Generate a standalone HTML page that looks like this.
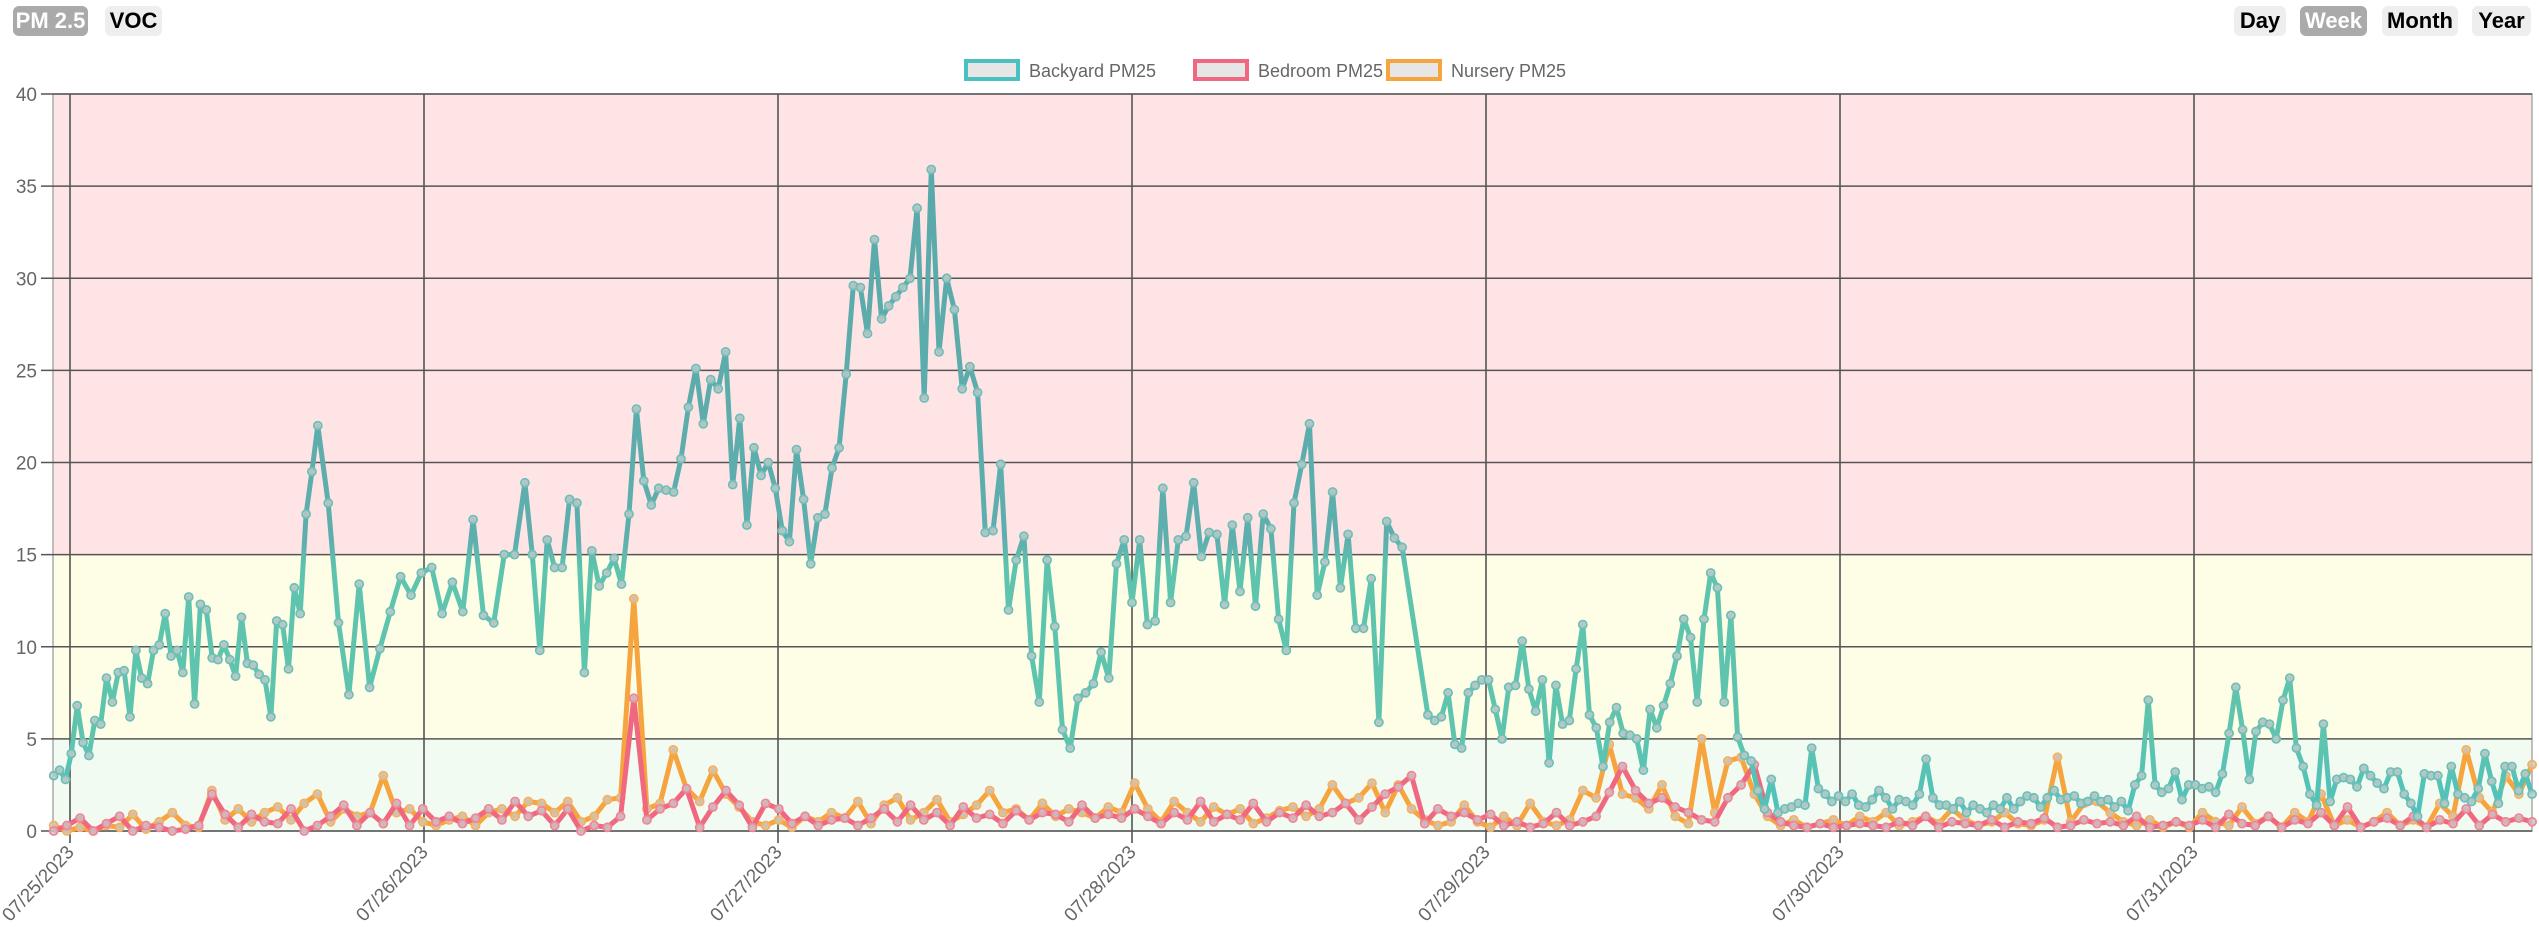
<!DOCTYPE html>
<html><head><meta charset="utf-8">
<style>
html,body{margin:0;padding:0;background:#fff;width:2539px;height:927px;overflow:hidden;font-family:"Liberation Sans",Arial,sans-serif}
.btn{position:absolute;top:6px;height:30px;line-height:30px;border-radius:6px;font-weight:bold;font-size:22px;text-align:center;background:#eee;color:#000}
.btn.on{background:#aaa;color:#fff}
svg{position:absolute;left:0;top:0}
</style></head><body>
<div class="btn on" style="left:13px;width:75px">PM 2.5</div>
<div class="btn" style="left:105px;width:57px">VOC</div>
<div class="btn" style="left:2234px;width:52px">Day</div>
<div class="btn on" style="left:2300px;width:67px">Week</div>
<div class="btn" style="left:2382px;width:76px">Month</div>
<div class="btn" style="left:2472px;width:59px">Year</div>
<svg id="chart" width="2539" height="927" xmlns="http://www.w3.org/2000/svg"></svg>
<script>
const dateLabels=["07/25/2023","07/26/2023","07/27/2023","07/28/2023","07/29/2023","07/30/2023","07/31/2023"];
const yTicks=[0,5,10,15,20,25,30,35,40];
const seriesNames=["Backyard PM25","Bedroom PM25","Nursery PM25"];
const backyardSeg1=[3.0,3.3,2.8,4.2,6.8,4.8,4.1,6.0,5.8,8.3,7.0,8.6,8.7,6.2,9.8,8.3,8.0,9.8,10.1,11.8,9.5,9.8,8.6,12.7,6.9,12.3,12.0,9.4,9.3,10.1,9.3,8.4,11.6,9.1,9.0,8.5,8.2,6.2,11.4,11.2,8.8,13.2,11.8,17.2,19.5,22.0,17.8,11.3,7.4,13.4,7.8,9.9,11.9,13.8,12.8,14.0,14.3,11.8,13.5,11.9,16.9,11.7,11.3,15.0,15.0,18.9,15.0,9.8,15.8,14.3,14.3,18.0,17.8,8.6,15.2,13.3,14.0,14.8,13.4,17.2,22.9,19.0,17.7,18.6,18.5,18.4,20.2,23.0,25.1,22.1,24.5,24.0,26.0,18.8,22.4,16.6,20.8,19.3,20.0,18.6,16.3,15.7,20.7,18.0,14.5,17.0,17.2,19.7,20.8,24.8,29.6,29.5,27.0,32.1,27.8,28.5,29.0,29.5,30.0,33.8,23.5,35.9,26.0,30.0,28.3,24.0,25.2,23.8,16.2,16.3,19.9,12.0,14.7,16.0,9.5,7.0,14.7,11.1,5.5,4.5,7.2,7.5,8.0,9.7,8.3,14.5,15.8,12.4,15.8,11.2,11.4,18.6,12.4,15.8,16.0,18.9,14.9,16.2,16.1,12.3,16.6,13.0,17.0,12.2,17.2,16.4,11.5,9.8,17.8,19.9,22.1,12.8,14.6,18.4,13.2,16.1,11.0,11.0,13.7,5.9,16.8,15.9,15.4];
const seg1AnchorIdx=[0,45,65,80,92,121,182];
const seg1AnchorDay=[-0.046,0.700,1.285,1.600,1.852,2.433,3.763];
const backyardSeg2=[6.3,6.0,6.2,7.5,4.7,4.5,7.5,7.9,8.2,8.2,6.6,5.0,7.8,7.9,10.3,7.7,6.5,8.2,3.7,7.9,5.8,6.0,8.8,11.2,6.3,5.6,3.5,5.9,6.7,5.3,5.2,5.0,3.3,6.6,5.6,6.8,8.0,9.5,11.5,10.5,7.0,11.5,14.0,13.2,7.0,11.7,5.1,4.1,3.8,2.2,1.2,2.8,1.0,1.2,1.3,1.5,1.4,4.5,2.3,2.0,1.6,1.9,1.6,2.0,1.4,1.3,1.7,2.2,1.8,1.2,1.7,1.6,1.4,2.0,3.9,1.8,1.4,1.4,1.2,1.6,1.0,1.4,1.2,1.0,1.4,1.2,1.8,1.2,1.6,1.9,1.8,1.3,1.8,2.2,1.7,1.8,1.9,1.5,1.6,1.9,1.6,1.7,1.3,1.6,1.1,2.5,3.0,7.1,2.5,2.1,2.3,3.2,1.7,2.5,2.5,2.3,2.4,2.1,3.1,5.3,7.8,5.5,2.8,5.4,5.9,5.8,5.0,7.1,8.3,4.5,3.5,2.0,1.4,5.8,1.6,2.8,2.9,2.8,2.4,3.4,3.0,2.6,2.3,3.2,3.2,2.0,1.5,0.8,3.1,3.0,3.0,1.5,3.5,2.0,1.8,1.6,2.3,4.2,2.7,1.5,3.5,3.5,2.2,3.1,2.0];
const seg2StartDay=3.836, seg2EndDay=6.955;
const bedroom=[0,0.3,0.7,0,0.4,0.8,0,0.3,0.2,0,0.1,0.3,2.0,0.9,0.2,0.9,0.5,0.4,1.2,0,0.3,0.8,1.4,0.3,1.0,0.4,1.5,
0.3,1.2,0.5,0.8,0.4,0.7,1.2,0.6,1.6,0.8,1.1,0.3,1.2,0,0.3,0.2,0.8,7.2,0.6,1.2,1.5,2.3,0.2,1.3,2.2,1.4,0.2,
1.5,1.2,0.4,0.8,0.3,0.6,0.7,0.3,0.7,1.2,0.5,1.4,0.6,1.0,0.3,1.3,0.7,0.9,0.4,1.1,0.6,1.0,0.9,0.5,1.4,0.7,0.9,
0.7,1.2,0.8,0.4,1.0,0.6,1.6,0.5,0.9,0.6,1.5,0.5,1.0,0.7,1.4,0.8,1.0,1.5,0.6,1.3,2.0,2.4,3.0,0.4,1.2,0.8,1.0,
0.6,0.9,0.3,0.5,0.2,0.4,1.0,0.3,0.5,0.8,2.1,3.5,2.2,1.5,1.8,1.3,1.0,0.6,0.5,1.8,2.5,3.6,1.0,0.5,0.3,0.2,0.4,
0.2,0.3,0.4,0.3,0.2,0.5,0.3,0.8,0.2,0.5,0.4,0.3,0.6,0.2,0.5,0.4,0.7,0.2,0.3,0.6,0.4,0.5,0.3,0.8,0.2,0.3,0.5,
0.3,0.6,0.2,0.9,0.4,0.3,0.8,0.2,0.6,0.4,1.0,0.3,1.3,0.2,0.5,0.7,0.3,0.8,0.2,0.6,0.4,1.2,0.3,0.9,0.5,0.7,0.5];
const nursery=[0.3,0,0.2,0,0.3,0.2,0.9,0.1,0.5,1.0,0.3,0.2,2.2,0.6,1.2,0.5,1.0,1.3,0.6,1.5,2.0,0.5,1.2,0.8,1.0,3.0,1.0,
1.2,0.5,0.3,0.6,0.8,0.3,1.0,1.2,0.8,1.6,1.5,1.0,1.6,0.5,0.8,1.7,1.8,12.6,1.2,1.5,4.4,2.3,1.6,3.3,2.0,1.3,0.5,
0.3,0.6,0.2,0.8,0.5,1.0,0.7,1.6,0.4,1.4,1.8,0.6,1.0,1.7,0.5,0.9,1.4,2.2,1.0,1.2,0.6,1.5,0.8,1.2,1.0,0.7,1.3,
1.0,2.6,1.2,0.5,1.6,1.0,0.5,1.3,0.9,1.2,0.4,0.7,1.1,1.3,0.8,1.2,2.5,1.5,1.8,2.6,1.0,2.5,1.2,0.6,0.3,0.5,1.4,
0.5,0.2,0.8,0.3,1.5,0.5,0.3,0.6,2.2,1.8,4.7,2.0,1.8,1.2,2.5,0.8,0.4,5.0,1.0,3.8,4.0,2.0,0.8,0.3,0.6,0.2,0.4,
0.6,0.3,0.8,0.5,1.0,0.3,0.5,0.8,0.4,1.2,0.6,0.3,0.5,1.0,0.4,0.3,0.6,4.0,0.5,1.5,1.6,1.0,0.5,0.3,0.6,0.2,0.5,
0.2,1.0,0.5,0.3,1.3,0.4,0.8,0.2,1.0,0.5,2.0,0.3,0.6,0.2,0.5,1.0,0.3,0.6,0.2,1.5,0.8,4.4,1.8,1.0,3.0,2.0,3.6];
const indoorStartDay=-0.046, indoorEndDay=6.955;

const NS="http://www.w3.org/2000/svg";
const svg=document.getElementById('chart');
const L=53,R=2532,T=94,B=831,YMAX=40;
const xs=d=>70+d*354;
const ys=v=>B-v*(B-T)/YMAX;
function mk(tag,attrs,parent){const e=document.createElementNS(NS,tag);for(const k in attrs)e.setAttribute(k,attrs[k]);(parent||svg).appendChild(e);return e;}

const defs=mk('defs',{});
const grad=mk('linearGradient',{id:'gBack',gradientUnits:'userSpaceOnUse',x1:0,x2:0,y1:ys(40),y2:ys(0)},defs);
[[0,'#5aa9aa'],[(ys(15)-T)/(B-T)-0.02,'#5eaeae'],[(ys(15)-T)/(B-T)+0.02,'#5ec4ae'],[(ys(5)-T)/(B-T),'#5ec4ae'],[1,'#4bc0c0']].forEach(s=>mk('stop',{offset:s[0],'stop-color':s[1]},grad));

const bands=[[15,40,'#ffe4e6','band-unhealthy'],[5,15,'#fefde6','band-moderate'],[0,5,'#f1fbf1','band-good']];
bands.forEach(b=>{const r=mk('rect',{x:L,y:ys(b[1]),width:R-L,height:ys(b[0])-ys(b[1]),fill:b[2]});

});
mk('rect',{x:L,y:T,width:R-L,height:B-T,fill:'none',stroke:'#aaa','stroke-width':1.5});

yTicks.forEach(v=>{const y=ys(v);
const g=mk('line',{x1:41,x2:R,y1:y,y2:y,stroke:'#555','stroke-width':1.6});


const t=mk('text',{x:37,y:y+7,'text-anchor':'end','font-size':19,fill:'#666','font-family':'Liberation Sans, sans-serif'});t.textContent=v;

});

dateLabels.forEach((lab,i)=>{const x=xs(i);
const g=mk('line',{x1:x,x2:x,y1:T,y2:B+12,stroke:'#555','stroke-width':1.6});


const t=mk('text',{x:x+5,y:B+22,'text-anchor':'end','font-size':19,fill:'#666','font-family':'Liberation Sans, sans-serif',transform:`rotate(-47 ${x+5} ${B+22})`});t.textContent=lab;

});

function seg1Day(i){for(let k=0;k<seg1AnchorIdx.length-1;k++){const a=seg1AnchorIdx[k],b=seg1AnchorIdx[k+1];if(i<=b){return seg1AnchorDay[k]+(i-a)/(b-a)*(seg1AnchorDay[k+1]-seg1AnchorDay[k]);}}return seg1AnchorDay[seg1AnchorDay.length-1];}
const backPts=backyardSeg1.map((v,i)=>[seg1Day(i),v]).concat(backyardSeg2.map((v,i)=>[seg2StartDay+i*(seg2EndDay-seg2StartDay)/(backyardSeg2.length-1),v]));
const uni=(arr)=>arr.map((v,i)=>[indoorStartDay+i*(indoorEndDay-indoorStartDay)/(arr.length-1),v]);

function drawSeries(pts,color,name,pointStroke){
const g=mk('g',{});


const d=pts.map((p,i)=>(i?'L':'M')+xs(p[0]).toFixed(1)+' '+ys(p[1]).toFixed(1)).join(' ');
mk('path',{d:d,fill:'none',stroke:color,'stroke-width':5,'stroke-linejoin':'round'},g);
pts.forEach(p=>{const c=mk('circle',{cx:xs(p[0]).toFixed(1),cy:ys(p[1]).toFixed(1),r:4,fill:'#c8c8c8','fill-opacity':0.8,stroke:pointStroke,'stroke-width':1.8},g);

});
}
drawSeries(uni(nursery),'#f5a43e','nursery-series','#f5b060');
drawSeries(uni(bedroom),'#f0687f','bedroom-series','#f08598');
drawSeries(backPts,'url(#gBack)','backyard-series','#6cc0b8');

const leg=[[966,'#4bc0c0','Backyard PM25','legend-backyard'],[1195,'#f0687f','Bedroom PM25','legend-bedroom'],[1388,'#f5a43e','Nursery PM25','legend-nursery']];
leg.forEach(l=>{const g=mk('g',{});


mk('rect',{x:l[0],y:61,width:52,height:18,fill:'#e6e6e6',stroke:l[1],'stroke-width':4},g);
const t=mk('text',{x:l[0]+63,y:77,'font-size':18,fill:'#666','font-family':'Liberation Sans, sans-serif'},g);t.textContent=l[2];});
</script>
</body></html>
